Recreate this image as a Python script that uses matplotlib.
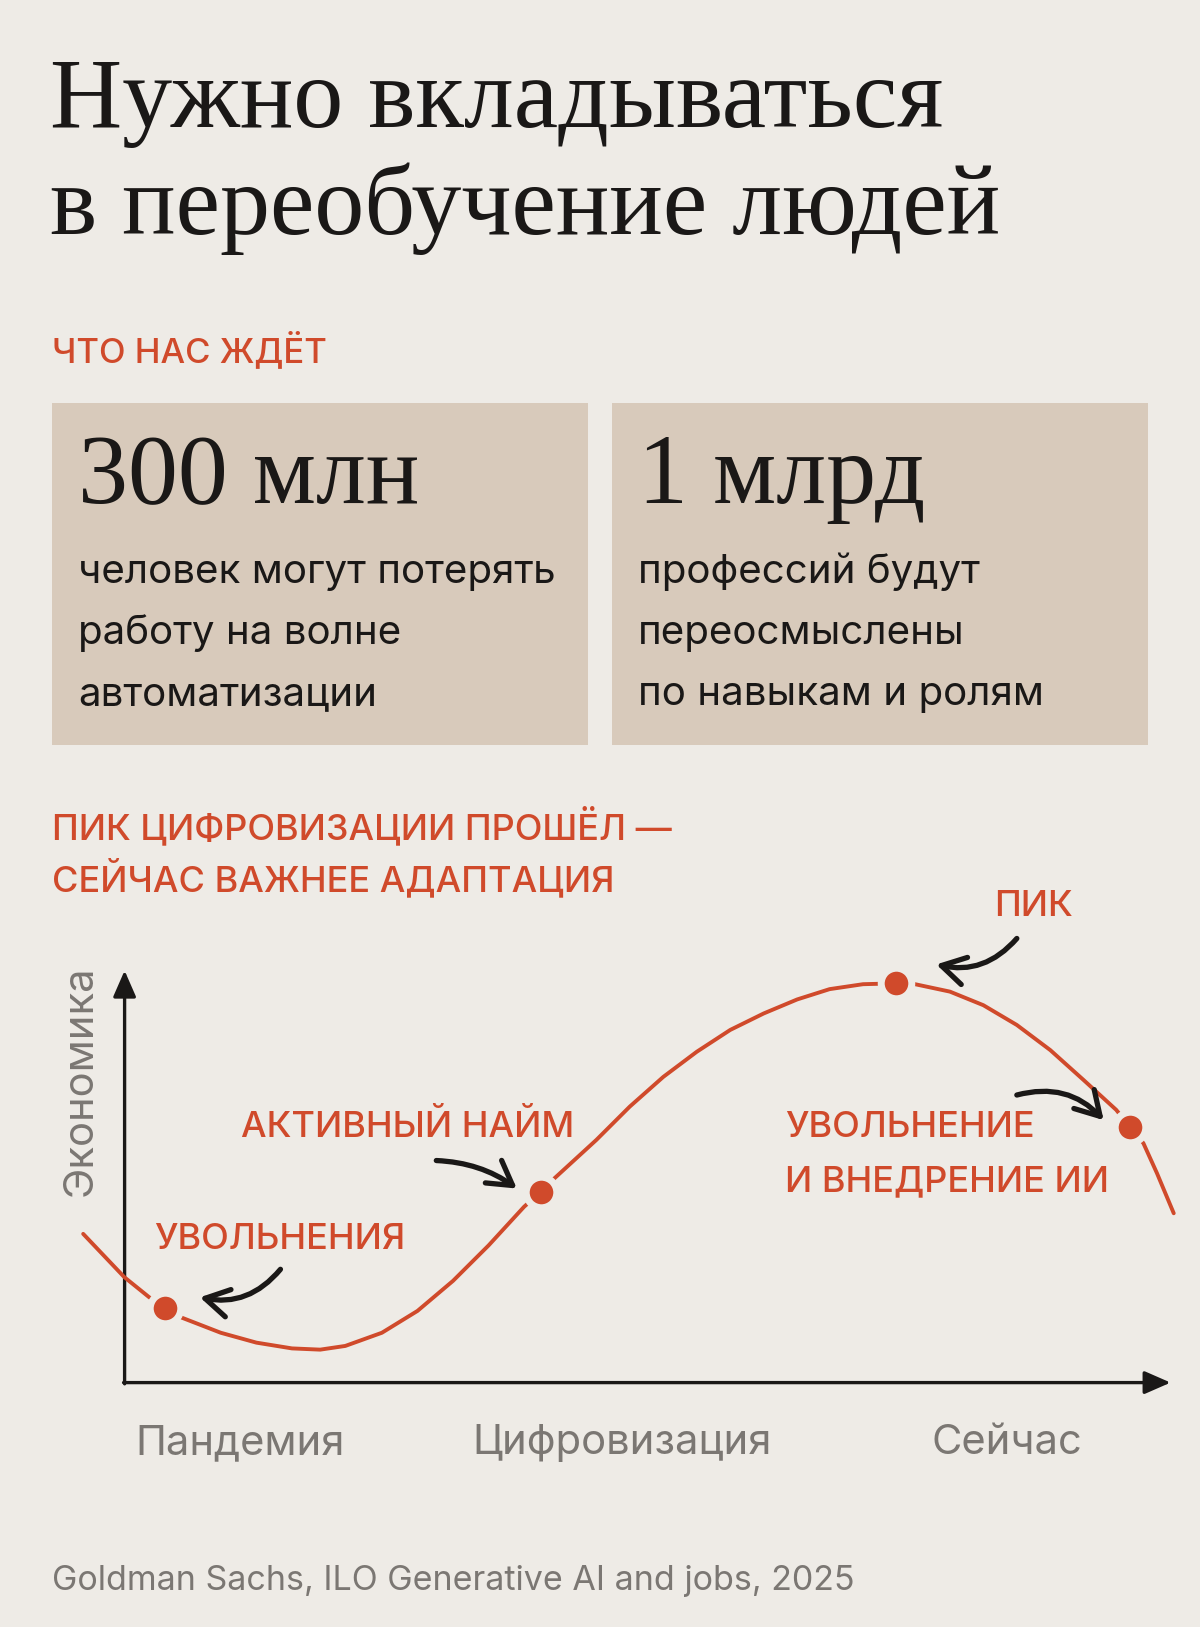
import matplotlib.pyplot as plt
from matplotlib.patches import Rectangle

BG = '#eeebe6'
BOX = '#d8cabb'
RED = '#d04a2b'
INK = '#1a1817'
GRAY = '#7b7773'

SANS = ['Inter', 'DejaVu Sans']
SERIF = ['Liberation Serif', 'DejaVu Serif']

# data (time 0-100 along x arrow, economy 0-100 up y arrow)
curve_x = [-3.96, -0.03, 2.36, 3.90, 5.43, 9.19, 12.6, 16.0, 18.7, 21.1, 24.6,
           28.0, 31.4, 34.8, 38.2, 39.8, 41.1, 45.1, 48.3, 51.5, 54.7, 57.9,
           61.1, 64.3, 67.4, 70.6, 73.7, 75.2, 78.9, 82.1, 85.3, 88.5, 91.7,
           94.8, 96.1, 97.4, 98.7, 100.3]
curve_y = [36.1, 25.6, 20.7, 18.2, 15.8, 12.1, 9.7, 8.3, 8.0, 8.9, 12.1,
           17.4, 24.7, 33.3, 42.7, 46.3, 49.6, 58.9, 67.0, 74.2, 80.3, 85.6,
           89.6, 93.0, 95.5, 96.7, 96.9, 96.9, 94.9, 91.6, 86.8, 80.7, 73.4,
           66.2, 62.1, 58.1, 50.8, 41.1]

event_x = [3.9, 39.8, 73.7, 96.1]
event_y = [18.2, 46.3, 96.9, 62.1]
event_labels = ['УВОЛЬНЕНИЯ', 'АКТИВНЫЙ НАЙМ', 'ПИК', 'УВОЛЬНЕНИЕ\nИ ВНЕДРЕНИЕ ИИ']

period_labels = ['Пандемия', 'Цифровизация', 'Сейчас']
period_x = [11.0, 47.6, 84.3]

stat_values = ['300 млн', '1 млрд']
stat_texts = ['человек могут потерять\nработу на волне\nавтоматизации',
              'профессий будут\nпереосмыслены\nпо навыкам и ролям']

title = 'Нужно вкладываться\nв переобучение людей'
source = 'Goldman Sachs, ILO Generative AI and jobs, 2025'

W, H = 1200, 1627
fig = plt.figure(figsize=(W / 100, H / 100), dpi=100, facecolor=BG)

# page layer in pixel units for the text blocks and cards
page = fig.add_axes([0, 0, 1, 1])
page.set_xlim(0, W)
page.set_ylim(H, 0)
page.set_axis_off()
page.set_facecolor(BG)

for i, line in enumerate(title.split('\n')):
    page.text(50, 127 + i * 107, line, family=SERIF, fontsize=72, color=INK,
              va='baseline', ha='left')

page.text(52, 362, 'ЧТО НАС ЖДЁТ', family=SANS, fontsize=25, color=RED,
          fontweight='medium', va='baseline')

box_left = [52, 612]
for i, bx in enumerate(box_left):
    page.add_patch(Rectangle((bx, 403), 536, 342, facecolor=BOX, edgecolor='none'))
    page.text(bx + 26, 503, stat_values[i], family=SERIF, fontsize=72, color=INK,
              va='baseline')
    for j, line in enumerate(stat_texts[i].split('\n')):
        page.text(bx + 26, 583 + j * 61, line, family=SANS, fontsize=29,
                  color=INK, va='baseline')

page.text(52, 839, 'ПИК ЦИФРОВИЗАЦИИ ПРОШЁЛ —', family=SANS, fontsize=26,
          color=RED, fontweight='medium', va='baseline')
page.text(52, 891, 'СЕЙЧАС ВАЖНЕЕ АДАПТАЦИЯ', family=SANS, fontsize=26,
          color=RED, fontweight='medium', va='baseline')

page.text(52, 1590, source, family=SANS, fontsize=24.5, color=GRAY, va='baseline')

# chart
ax = fig.add_axes([124.6 / W, 1 - 1382.6 / H, 1046 / W, 412 / H])
ax.set_xlim(0, 100)
ax.set_ylim(0, 100)
ax.patch.set_alpha(0)
for s in ax.spines.values():
    s.set_visible(False)

axis_arrow = dict(arrowstyle='-|>,head_length=0.8,head_width=0.35', lw=2.4,
                  color=INK, shrinkA=0, shrinkB=0, mutation_scale=20)
ax.annotate('', xy=(0, 100), xytext=(0, -0.3), arrowprops=axis_arrow,
            annotation_clip=False)
ax.annotate('', xy=(100, 0), xytext=(-0.1, 0), arrowprops=axis_arrow,
            annotation_clip=False)

ax.plot(curve_x, curve_y, color=RED, lw=2.8, clip_on=False,
        solid_capstyle='round', solid_joinstyle='round', zorder=3)
ax.plot(event_x, event_y, 'o', ms=22, mfc=RED, mec=BG, mew=5,
        clip_on=False, zorder=4)

ax.set_xticks(period_x, period_labels, family=SANS, fontsize=30, color=GRAY)
ax.tick_params(axis='x', length=0, pad=30)
ax.set_yticks([])
ax.text(-0.0417, 0.734, 'Экономика', transform=ax.transAxes, rotation=90,
        ha='center', va='center', family=SANS, fontsize=30, color=GRAY)

# label anchors (left, baseline) in chart units
label_pos = [(2.8, 32.4), (11.1, 59.6), (83.1, 113.3), (63.1, 59.6)]
for (lx, ly), lab in zip(label_pos, event_labels):
    for k, line in enumerate(lab.split('\n')):
        ax.text(lx, ly - k * 13.1, line, family=SANS, fontsize=26, color=RED,
                fontweight='medium', va='baseline', clip_on=False)

# hand-drawn pointers: (tail, head, bend)
pointers = [((14.9, 27.5), (7.2, 20.7), -0.3),
            ((29.8, 53.9), (37.5, 47.1), -0.15),
            ((85.3, 107.8), (77.6, 101.5), -0.3),
            ((85.3, 69.8), (93.6, 63.7), -0.3)]
for tail, head, rad in pointers:
    ax.annotate('', xy=head, xytext=tail, annotation_clip=False,
                arrowprops=dict(arrowstyle='->,head_length=0.85,head_width=0.5',
                                connectionstyle=f'arc3,rad={rad}', lw=3.8,
                                color=INK, shrinkA=0, shrinkB=0,
                                mutation_scale=20, capstyle='round',
                                joinstyle='round'))

fig.savefig('out.png', dpi=100, facecolor=BG)
